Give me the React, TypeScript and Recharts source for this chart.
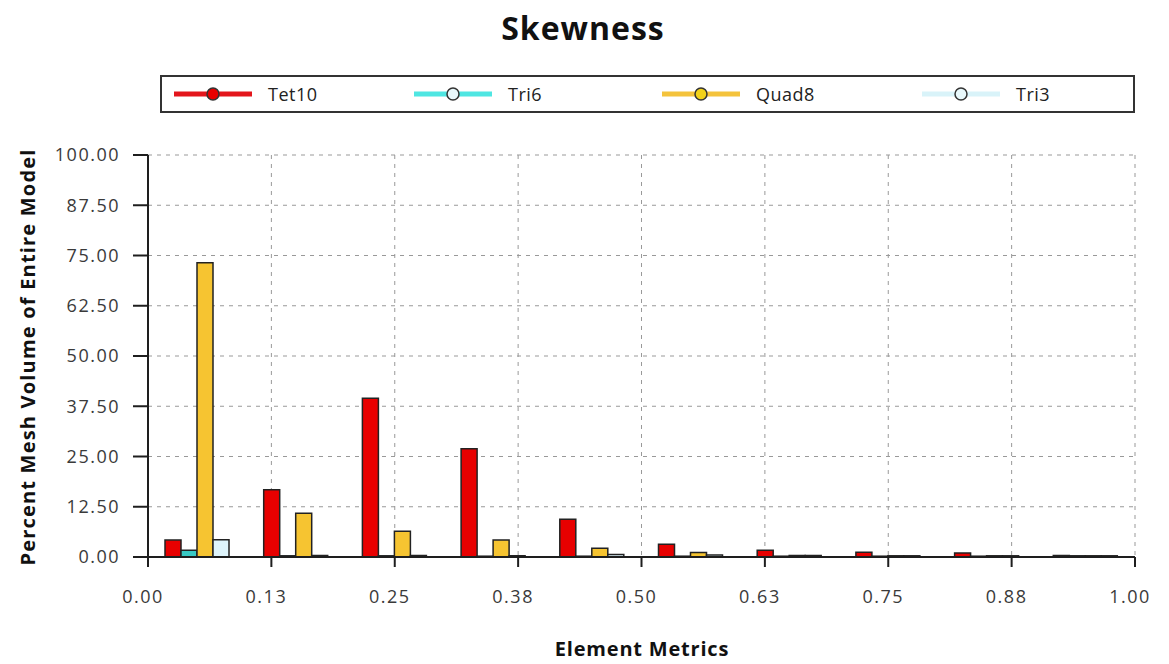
import { Bar, BarChart, CartesianGrid, XAxis, YAxis } from "recharts";

// histogram bins over the metric range, 0.1 wide each, keyed by bin centre
const binCenters = [0.05, 0.15, 0.25, 0.35, 0.45, 0.55, 0.65, 0.75, 0.85, 0.95];

const tet10 = [4.2, 16.7, 39.5, 26.9, 9.4, 3.2, 1.7, 1.2, 1.0, 0.4];
const tri6 = [1.7, 0.3, 0.3, 0.2, 0.2, 0.2, 0.2, 0.2, 0.2, 0.3];
const quad8 = [73.2, 10.9, 6.4, 4.2, 2.2, 1.1, 0.4, 0.3, 0.3, 0.3];
const tri3 = [4.3, 0.4, 0.4, 0.3, 0.6, 0.5, 0.4, 0.3, 0.3, 0.3];

const xTicks = [0, 0.125, 0.25, 0.375, 0.5, 0.625, 0.75, 0.875, 1];
const xTickLabels = ["0.00", "0.13", "0.25", "0.38", "0.50", "0.63", "0.75", "0.88", "1.00"];
const yTicks = [0, 12.5, 25, 37.5, 50, 62.5, 75, 87.5, 100];
const yTickLabels = ["0.00", "12.50", "25.00", "37.50", "50.00", "62.50", "75.00", "87.50", "100.00"];

const series = [
  { key: "tet10", name: "Tet10", fill: "#e80000", line: "#e3161c", values: tet10 },
  { key: "tri6", name: "Tri6", fill: "#38c9c4", line: "#4fe6e2", values: tri6 },
  { key: "quad8", name: "Quad8", fill: "#f6c431", line: "#f4c33c", values: quad8 },
  { key: "tri3", name: "Tri3", fill: "#def4fb", line: "#d9f3f9", values: tri3 },
];

const data = binCenters.map((x, i) => {
  const row: Record<string, number> = { x };
  series.forEach((s) => {
    row[s.key] = s.values[i];
  });
  return row;
});

const FONT = '"Open Sans", "Noto Sans", sans-serif';
const AXIS = "#1e1e1e";
const legendLeft = [12, 252, 500, 760];

function ChartLegend() {
  return (
    <div
      style={{
        position: "absolute",
        left: 160,
        top: 75,
        width: 975,
        height: 38,
        boxSizing: "border-box",
        border: "2px solid #333",
        background: "#fff",
        fontFamily: FONT,
        fontSize: 18,
        color: "#222",
      }}
    >
      {series.map((s, i) => (
        <div key={s.key} style={{ position: "absolute", left: legendLeft[i], top: 0, height: 34, display: "flex", alignItems: "center" }}>
          <svg width={80} height={16}>
            <line x1={0} y1={8} x2={78} y2={8} stroke={s.line} strokeWidth={5} />
            <circle cx={39} cy={8} r={6} fill={i === 0 ? s.fill : i === 2 ? "#f2d21a" : "#e8f8fb"} stroke="#333" strokeWidth={1.5} />
          </svg>
          <span style={{ marginLeft: 14, letterSpacing: 0.5 }}>{s.name}</span>
        </div>
      ))}
    </div>
  );
}

export default function App() {
  return (
    <div style={{ position: "absolute", left: 0, top: 0, width: 1169, height: 664, background: "#fff", fontFamily: FONT }}>
      <div
        style={{
          position: "absolute",
          left: 0,
          width: 1166,
          top: 6,
          textAlign: "center",
          fontSize: 32,
          fontWeight: 700,
          letterSpacing: 1,
          color: "#111",
        }}
      >
        Skewness
      </div>
      <ChartLegend />
      <BarChart
        width={1169}
        height={664}
        data={data}
        margin={{ top: 155, right: 34, bottom: 67, left: 0 }}
        barCategoryGap={17}
        barGap={0}
      >
        <CartesianGrid stroke="#999" strokeDasharray="4 5" />
        <XAxis
          dataKey="x"
          type="number"
          domain={[0, 1]}
          ticks={xTicks}
          allowDataOverflow
          height={40}
          tickSize={10}
          tickMargin={23}
          stroke={AXIS}
          strokeWidth={2}
          tick={{ fill: "#3a3a3a", fontSize: 18, fontFamily: FONT, dx: -5, letterSpacing: 1.5 }}
          tickFormatter={(v: number) => xTickLabels[xTicks.indexOf(v)]}
        />
        <XAxis xAxisId="top" orientation="top" type="number" domain={[0, 1]} height={0} tick={false} tickLine={false} stroke={AXIS} strokeWidth={2} />
        <YAxis
          domain={[0, 100]}
          ticks={yTicks}
          width={148}
          tickSize={15}
          tickMargin={13}
          stroke={AXIS}
          strokeWidth={2}
          tick={{ fill: "#3a3a3a", fontSize: 18, fontFamily: FONT, letterSpacing: 1.5 }}
          tickFormatter={(v: number) => yTickLabels[yTicks.indexOf(v)]}
        />
        <YAxis yAxisId="right" orientation="right" domain={[0, 100]} width={0} tick={false} tickLine={false} stroke={AXIS} strokeWidth={2} />
        {series.map((s) => (
          <Bar
            key={s.key}
            dataKey={s.key}
            name={s.name}
            fill={s.fill}
            stroke="#222"
            strokeWidth={1.5}
            isAnimationActive={false}
          />
        ))}
      </BarChart>
      <div
        style={{
          position: "absolute",
          left: 27,
          top: 357,
          transform: "translate(-50%, -50%) rotate(-90deg)",
          whiteSpace: "nowrap",
          fontSize: 20,
          fontWeight: 700,
          letterSpacing: 1.2,
          color: "#111",
        }}
      >
        Percent Mesh Volume of Entire Model
      </div>
      <div
        style={{
          position: "absolute",
          left: 642,
          top: 648,
          transform: "translate(-50%, -50%)",
          whiteSpace: "nowrap",
          fontSize: 20,
          fontWeight: 700,
          letterSpacing: 0.8,
          color: "#111",
        }}
      >
        Element Metrics
      </div>
    </div>
  );
}
